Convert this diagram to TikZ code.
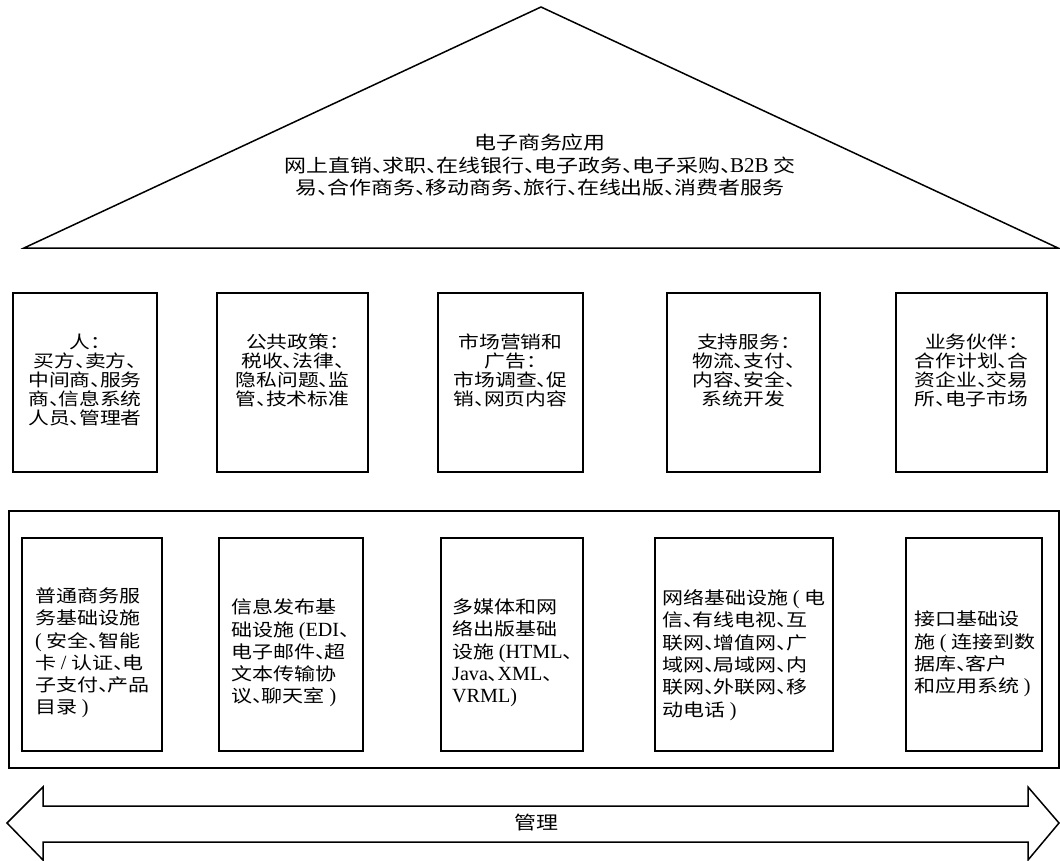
\documentclass[tikz,border=0pt]{standalone}
\usepackage{fontspec}
\newfontfamily\cjk[FakeStretch=1.2]{Noto Sans CJK SC}
\newfontfamily\lat[Scale=1.15]{Liberation Serif}
\newcommand\dn{\makebox[0.55em][l]{、}}
\newcommand\cn{\makebox[0.55em][l]{：}}
\newcommand\la[1]{{\lat #1}}
\begin{document}
\begin{tikzpicture}[x=1pt,y=-1pt,
  frame/.style={draw, line width=1.6pt, inner sep=0pt, outer sep=0pt},
  outline/.style={draw, line width=1.5pt, line join=miter},
  midtxt/.style={font=\cjk\fontsize{17.3}{19}\selectfont, align=center, inner sep=0pt, anchor=north},
  bottxt/.style={font=\cjk\fontsize{17.5}{22.3}\selectfont, align=left, inner sep=0pt, anchor=west},
  toptxt/.style={font=\cjk\fontsize{18.3}{22.5}\selectfont, align=center, inner sep=0pt}
  ]
\useasboundingbox (0,0) rectangle (1060,861);

% roof
\coordinate (apex) at (541,7);
\coordinate (bl) at (24,248);
\coordinate (br) at (1058,248);
\draw[outline] (apex) -- (bl) -- (br) -- cycle;
\node[toptxt] (roof) at (540,165.5) {电子商务应用\\
网上直销\dn 求职\dn 在线银行\dn 电子政务\dn 电子采购\dn\la{B2B} 交\\
易\dn 合作商务\dn 移动商务\dn 旅行\dn 在线出版\dn 消费者服务};

% middle pillars
\node[frame, minimum width=144pt, minimum height=179pt] (m1) at (85,382.5) {};
\node[frame, minimum width=151pt, minimum height=179pt] (m2) at (292.5,382.5) {};
\node[frame, minimum width=145pt, minimum height=179pt] (m3) at (510.5,382.5) {};
\node[frame, minimum width=153pt, minimum height=179pt] (m4) at (743.5,382.5) {};
\node[frame, minimum width=151pt, minimum height=179pt] (m5) at (971.5,382.5) {};

\node[midtxt] (t1) at (85,334) {人\cn\\买方\dn 卖方\dn\\中间商\dn 服务\\商\dn 信息系统\\人员\dn 管理者};
\node[midtxt] (t2) at (292.5,334) {公共政策\cn\\税收\dn 法律\dn\\隐私问题\dn 监\\管\dn 技术标准};
\node[midtxt] (t3) at (510.5,334) {市场营销和\\广告\cn\\市场调查\dn 促\\销\dn 网页内容};
\node[midtxt] (t4) at (743.5,334) {支持服务\cn\\物流\dn 支付\dn\\内容\dn 安全\dn\\系统开发};
\node[midtxt] (t5) at (971.5,334) {业务伙伴\cn\\合作计划\dn 合\\资企业\dn 交易\\所\dn 电子市场};

% foundation
\node[frame, minimum width=1050pt, minimum height=257pt] (base) at (534,639.5) {};
\node[frame, minimum width=140pt, minimum height=213pt] (b1) at (92,644.5) {};
\node[frame, minimum width=144pt, minimum height=213pt] (b2) at (291,644.5) {};
\node[frame, minimum width=142pt, minimum height=213pt] (b3) at (512,644.5) {};
\node[frame, minimum width=178pt, minimum height=213pt] (b4) at (744,644.5) {};
\node[frame, minimum width=136pt, minimum height=213pt] (b5) at (974,644.5) {};

\node[bottxt] (u1) at (35,653) {普通商务服\\务基础设施\\\la{(} 安全\dn 智能\\卡 \la{/} 认证\dn 电\\子支付\dn 产品\\目录 \la{)}};
\node[bottxt] (u2) at (231,653) {信息发布基\\础设施 \la{(EDI}\dn\\电子邮件\dn 超\\文本传输协\\议\dn 聊天室 \la{)}};
\node[bottxt] (u3) at (452,653) {多媒体和网\\络出版基础\\设施 \la{(HTML}\dn\\\la{Java}\dn\la{XML}\dn\\\la{VRML)}};
\node[bottxt] (u4) at (662,655) {网络基础设施 \la{(} 电\\信\dn 有线电视\dn 互\\联网\dn 增值网\dn 广\\域网\dn 局域网\dn 内\\联网\dn 外联网\dn 移\\动电话 \la{)}};
\node[bottxt] (u5) at (914,654) {接口基础设\\施 \la{(} 连接到数\\据库\dn 客户\\和应用系统 \la{)}};

% management arrow
\coordinate (lt) at (7,823);
\coordinate (rt) at (1059,823);
\draw[outline] (lt) -- (43,787) -- (43,806) -- (1028,806) -- (1028,787) -- (rt)
  -- (1028,860) -- (1028,842) -- (43,842) -- (43,860) -- cycle;
\node[toptxt] (mg) at (536,823) {管理};
\end{tikzpicture}
\end{document}
